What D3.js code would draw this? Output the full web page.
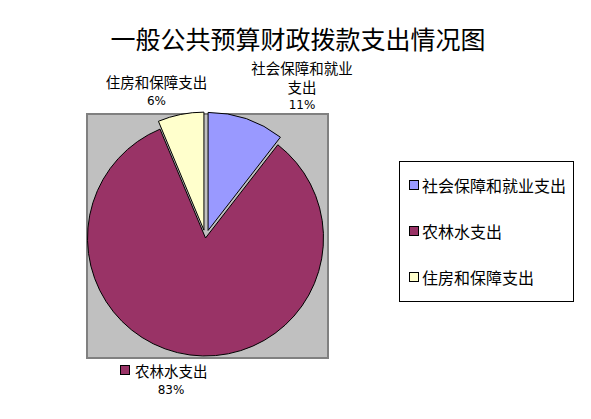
<!doctype html>
<html lang="zh">
<head>
<meta charset="utf-8">
<style>
  body { margin: 0; background: #fff; }
  svg { display: block; }
  text { font-family: "Noto Sans CJK SC", "DejaVu Sans", sans-serif; fill: #000; }
  .pct { font-family: "DejaVu Sans", sans-serif; font-size: 12px; }
</style>
</head>
<body>
<script src="https://cdn.jsdelivr.net/npm/d3@7/dist/d3.min.js"></script>
<script>
// data
var categories = ["社会保障和就业支出", "农林水支出", "住房和保障支出"];
var values = [10.5, 83.2, 6.3];
var labelLines = [["社会保障和就业", "支出"], ["农林水支出"], ["住房和保障支出"]];
var colors = ["#9999FF", "#993366", "#FFFFCC"];

var width = 591, height = 419;
var cx = 205.5, cy = 238, R = 118;
var explode = [8, 0, 8];

var svg = d3.select("body").append("svg")
  .attr("width", width).attr("height", height);

svg.append("text")
  .attr("x", 298).attr("y", 38)
  .attr("text-anchor", "middle")
  .attr("dominant-baseline", "central")
  .style("font-size", "25px")
  .text("一般公共预算财政拨款支出情况图");

// plot area
svg.append("rect")
  .attr("x", 87).attr("y", 114)
  .attr("width", 241).attr("height", 244)
  .attr("fill", "#C0C0C0")
  .attr("stroke", "#808080").attr("stroke-width", 2);

var total = d3.sum(values);
var pie = d3.pie().sort(null).startAngle(0).endAngle(2 * Math.PI);
var arcs = pie(values);
var arc = d3.arc().innerRadius(0).outerRadius(R);

svg.append("g")
  .attr("transform", "translate(" + cx + "," + cy + ")")
  .selectAll("path")
  .data(arcs).enter()
  .append("path")
  .attr("d", arc)
  .attr("transform", function (d, i) {
    var a = (d.startAngle + d.endAngle) / 2;
    return "translate(" + (explode[i] * Math.sin(a)) + "," + (-explode[i] * Math.cos(a)) + ")";
  })
  .attr("fill", function (d, i) { return colors[i]; })
  .attr("stroke", "#000").attr("stroke-width", 1);

// data labels
var labelPos = [
  { x: 302, y: 67, step: 19, key: false },
  { x: 171, y: 370, step: 20, key: true },
  { x: 156.5, y: 81.5, step: 19.5, key: false }
];

labelPos.forEach(function (p, i) {
  var g = svg.append("g");
  var lines = labelLines[i];
  lines.forEach(function (t, j) {
    if (p.key) {
      g.append("rect")
        .attr("x", 120.5).attr("y", p.y - 4.5)
        .attr("width", 9).attr("height", 9)
        .attr("fill", colors[i]).attr("stroke", "#000");
      g.append("text")
        .attr("x", 135).attr("y", p.y + j * p.step)
        .attr("dominant-baseline", "central")
        .style("font-size", "14.5px")
        .text(t);
    } else {
      g.append("text")
        .attr("x", p.x).attr("y", p.y + j * p.step)
        .attr("text-anchor", "middle")
        .attr("dominant-baseline", "central")
        .style("font-size", "14.5px")
        .text(t);
    }
  });
  g.append("text")
    .attr("class", "pct")
    .attr("x", p.x).attr("y", p.y + lines.length * p.step)
    .attr("text-anchor", "middle")
    .attr("dominant-baseline", "central")
    .text(Math.round(values[i] / total * 100) + "%");
});

// legend
var legend = svg.append("g");
legend.append("rect")
  .attr("x", 399.5).attr("y", 161.5)
  .attr("width", 174).attr("height", 140)
  .attr("fill", "#fff").attr("stroke", "#000");

var ly = d3.scalePoint().domain(categories).range([185, 277]);

var item = legend.selectAll("g.item")
  .data(categories).enter()
  .append("g").attr("class", "item")
  .attr("transform", function (d) { return "translate(0," + ly(d) + ")"; });
item.append("rect")
  .attr("x", 409.5).attr("y", -4.5)
  .attr("width", 9).attr("height", 9)
  .attr("fill", function (d, i) { return colors[i]; })
  .attr("stroke", "#000");
item.append("text")
  .attr("x", 422).attr("y", 0)
  .attr("dominant-baseline", "central")
  .style("font-size", "16px")
  .text(function (d) { return d; });
</script>
</body>
</html>
